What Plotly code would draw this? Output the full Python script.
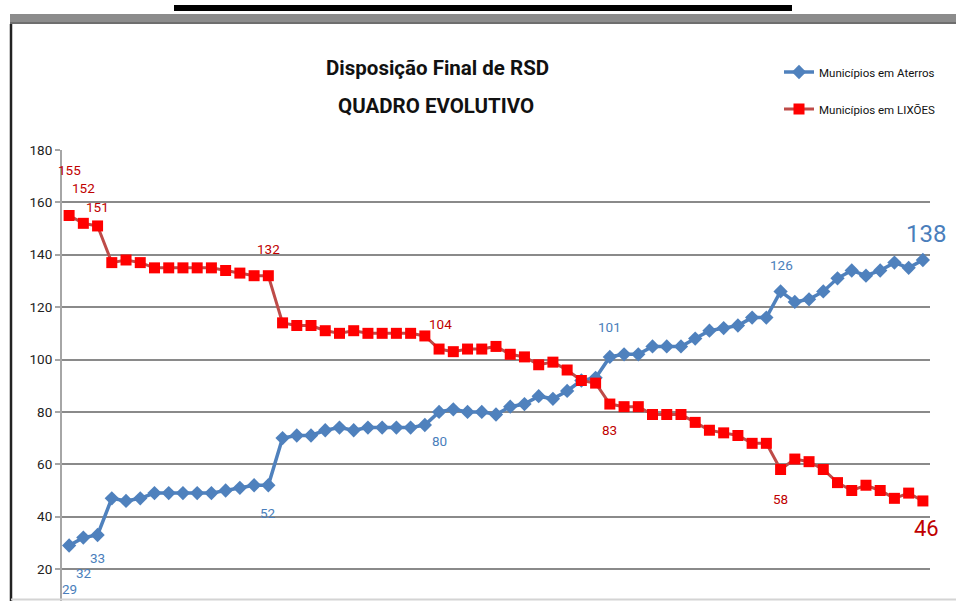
import plotly.graph_objects as go

# ---- data ----
periods = list(range(61))
aterros = [29, 32, 33, 47, 46, 47, 49, 49, 49, 49, 49, 50, 51, 52, 52,
           70, 71, 71, 73, 74, 73, 74, 74, 74, 74, 75,
           80, 81, 80, 80, 79, 82, 83, 86, 85, 88, 92, 93, 101, 102, 102,
           105, 105, 105, 108, 111, 112, 113, 116, 116, 126, 122, 123, 126, 131, 134, 132, 134, 137, 135, 138]
lixoes = [155, 152, 151, 137, 138, 137, 135, 135, 135, 135, 135, 134, 133, 132, 132,
          114, 113, 113, 111, 110, 111, 110, 110, 110, 110, 109,
          104, 103, 104, 104, 105, 102, 101, 98, 99, 96, 92, 91, 83, 82, 82,
          79, 79, 79, 76, 73, 72, 71, 68, 68, 58, 62, 61, 58, 53, 50, 52, 50, 47, 49, 46]
labelled = [0, 1, 2, 14, 26, 38, 50, 60]
y_ticks = [20, 40, 60, 80, 100, 120, 140, 160, 180]

# ---- styles ----
FONT = "Liberation Sans Narrow, Arial Narrow, Roboto, sans-serif"
BLUE = "#4F81BD"
BLUE_TXT = "#4A7EBB"
RED_LINE = "#BE4B48"
RED_MK = "#FF0000"
RED_TXT = "#C00000"
blue_shift = [-44, -35, -23, -28, -29, 30, 26, 26]
blue_xshift = [0, 1, 0, 0, 0, 0, 1, 3]
red_shift = [45, 35, 19, 27, 25, -26, -29, -28]
red_xshift = [0, 0, 0, 0, 1, 0, 0, 4]

fig = go.Figure()
fig.add_trace(go.Scatter(
    x=periods, y=aterros, name="Municípios em Aterros", mode="lines+markers",
    line=dict(color=BLUE, width=3.5),
    marker=dict(symbol="diamond", size=11, color=BLUE),
    legend="legend"))
fig.add_trace(go.Scatter(
    x=periods, y=lixoes, name="Municípios em LIXÕES", mode="lines+markers",
    line=dict(color=RED_LINE, width=3),
    marker=dict(symbol="square", size=11, color=RED_MK),
    legend="legend2"))

for k, i in enumerate(labelled):
    big = (i == periods[-1])
    fig.add_annotation(x=periods[i], y=aterros[i], text=str(aterros[i]), showarrow=False,
                       yshift=blue_shift[k], xshift=blue_xshift[k],
                       font=dict(family=FONT, size=24 if big else 13.5, color=BLUE_TXT))
    fig.add_annotation(x=periods[i], y=lixoes[i], text=str(lixoes[i]), showarrow=False,
                       yshift=red_shift[k], xshift=red_xshift[k],
                       font=dict(family=FONT, size=22 if big else 13.5, color=RED_TXT))

# pixel -> paper helpers (plot area: x 62..930, y 150..601)
def px(x):
    return (x - 62) / 868.0

def py(y):
    return (601 - y) / 451.0

shapes = [
    dict(type="rect", xref="paper", yref="paper", x0=px(174), x1=px(792), y0=py(11), y1=py(5),
         fillcolor="#000000", line=dict(width=0), layer="above"),
    dict(type="rect", xref="paper", yref="paper", x0=px(10), x1=px(960), y0=py(24), y1=py(14),
         fillcolor="#8C8C8C", line=dict(width=0), layer="above"),
    dict(type="line", xref="paper", yref="paper", x0=px(10), x1=px(960), y0=py(23), y1=py(23),
         line=dict(color="#6E6E6E", width=2), layer="above"),
    dict(type="line", xref="paper", yref="paper", x0=px(11), x1=px(11), y0=py(24), y1=py(602),
         line=dict(color="#222222", width=2.5), layer="above"),
    dict(type="line", xref="paper", yref="paper", x0=px(11), x1=px(960), y0=py(599.5), y1=py(599.5),
         line=dict(color="#D4D4D4", width=2), layer="above"),
]

fig.update_layout(
    width=956, height=601,
    margin=dict(l=62, r=26, t=150, b=0),
    paper_bgcolor="white", plot_bgcolor="white",
    showlegend=True,
    font=dict(family=FONT, size=13, color="#222222"),
    shapes=shapes,
    annotations=list(fig.layout.annotations) + [
        dict(xref="paper", yref="paper", x=px(437), y=py(68), xanchor="center", yanchor="middle",
             text="<b>Disposição Final de RSD</b>",
             showarrow=False, font=dict(family=FONT, size=20.5, color="#111111")),
        dict(xref="paper", yref="paper", x=px(436), y=py(106), xanchor="center", yanchor="middle",
             text="<b>QUADRO EVOLUTIVO</b>",
             showarrow=False, font=dict(family=FONT, size=20.5, color="#111111")),
    ],
    legend=dict(x=px(779), y=py(72), xanchor="left", yanchor="middle",
                font=dict(family=FONT, size=11.5, color="#111111"), bgcolor="rgba(0,0,0,0)",
                itemwidth=30),
    legend2=dict(x=px(779), y=py(109), xanchor="left", yanchor="middle",
                 font=dict(family=FONT, size=11.5, color="#111111"), bgcolor="rgba(0,0,0,0)",
                 itemwidth=30),
    xaxis=dict(range=[-0.5, 60.5], showgrid=False, zeroline=False, showticklabels=False,
               showline=False, ticks=""),
    yaxis=dict(range=[7.8, 180], tickvals=y_ticks, showgrid=True, gridcolor="#8A8A8A", gridwidth=2,
               zeroline=False, showline=True, linecolor="#A6A6A6", linewidth=2,
               ticks="outside", ticklen=5, tickcolor="#A6A6A6", tickwidth=2,
               tickfont=dict(family=FONT, size=13.5, color="#222222")),
)

fig.write_html("out.html", config={"displayModeBar": False},
               post_script="document.body.style.margin='0';document.body.style.overflow='hidden';")
